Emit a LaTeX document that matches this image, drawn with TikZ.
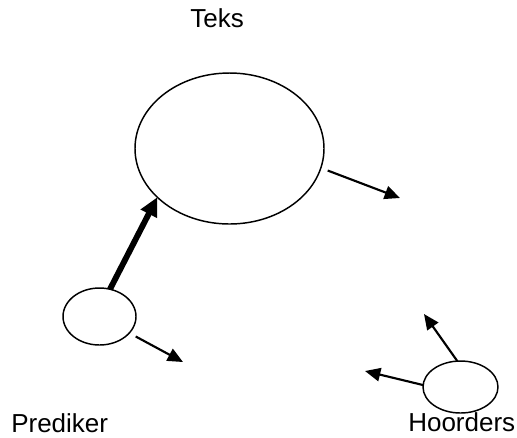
\documentclass[tikz,border=0pt]{standalone}
\usepackage{fontspec}
\setmainfont{Liberation Sans}
\usetikzlibrary{shapes.geometric,arrows.meta}
\begin{document}
\begin{tikzpicture}[x=0.75pt,y=-0.75pt,
  oval/.style={ellipse,draw,line width=1.1pt,inner sep=0pt,outer sep=0pt},
  lbl/.style={anchor=base west,inner sep=0pt,font=\fontsize{19.5pt}{22pt}\selectfont},
  thinarrow/.style={line width=1.6pt,-{Triangle[length=11.5pt,width=10pt]}},
  thickarrow/.style={line width=4.4pt,-{Triangle[length=14pt,width=13pt]}}]
\useasboundingbox[fill=white] (0,0) rectangle (517,437);
\node[oval,minimum width=141.75pt,minimum height=113.25pt] (teks) at (229.5,148.5) {};
\node[oval,minimum width=54.75pt,minimum height=42.75pt] (pred) at (99.5,316.5) {};
\node[oval,minimum width=56.25pt,minimum height=39pt] (hoor) at (460.5,387) {};
\node[lbl] (tteks) at (190,27) {Teks};
\node[lbl] (tpred) at (11,432) {Prediker};
\node[lbl] (thoor) at (408,431) {Hoorders};
\coordinate (e1) at (400,198);
\coordinate (e2) at (183,362);
\coordinate (e3) at (424,314);
\coordinate (e4) at (365,371);
\draw[thickarrow] (pred.69) -- (teks.214.9);
\draw[thinarrow,shorten <=5.5pt] (teks.-12.3) -- (e1);
\draw[thinarrow,shorten <=5.5pt] (pred.-29.3) -- (e2);
\draw[thinarrow] (hoor.97.7) -- (e3);
\draw[thinarrow] (hoor.177) -- (e4);
\end{tikzpicture}
\end{document}
